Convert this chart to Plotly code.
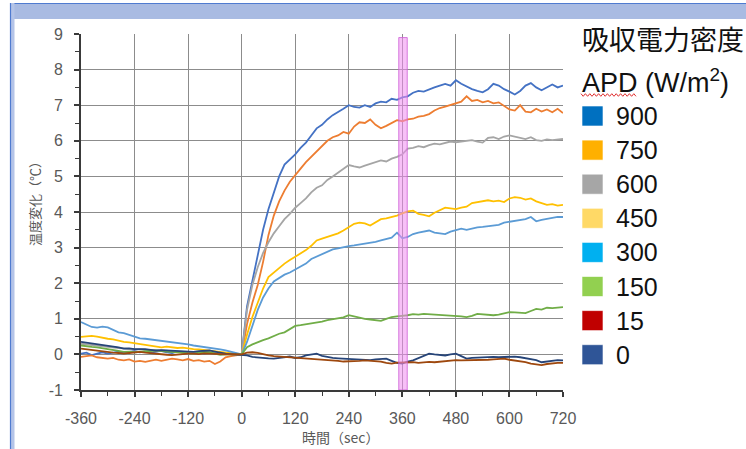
import plotly.graph_objects as go

# Time axis (s), sampled every 12 s from -360 to 720
time_sec = list(range(-360, 721, 12))

# Temperature change (°C) per absorbed power density (W/m²)
apd_900 = [0.02, 0.05, -0.02, 0.03, 0.06, 0.02, 0.05, 0.08, 0.04, 0.07,
           0.1, 0.06, 0.09, 0.05, 0.08, 0.1, 0.06, 0.04, 0.08, 0.05,
           0.03, 0.07, 0.04, 0.02, 0.05, 0.02, 0.04, 0.01, 0.03, 0.02,
           0.0, 1.35, 2.05, 2.8, 3.5, 4.08, 4.55, 5.0, 5.33, 5.48,
           5.62, 5.8, 5.95, 6.15, 6.35, 6.45, 6.6, 6.72, 6.8, 6.9,
           7.0, 6.95, 6.93, 7.0, 6.95, 7.05, 7.1, 7.08, 7.18, 7.15,
           7.22, 7.25, 7.35, 7.4, 7.38, 7.45, 7.5, 7.55, 7.6, 7.55,
           7.7, 7.6, 7.52, 7.45, 7.4, 7.36, 7.45, 7.6, 7.55, 7.45,
           7.38, 7.3, 7.4, 7.55, 7.62, 7.5, 7.42, 7.5, 7.58, 7.5,
           7.55]
apd_750 = [-0.07, -0.05, -0.03, -0.08, -0.1, -0.12, -0.1, -0.15, -0.17, -0.14,
           -0.2, -0.18, -0.21, -0.17, -0.15, -0.18, -0.16, -0.12, -0.14, -0.17,
           -0.13, -0.18, -0.16, -0.2, -0.18, -0.27, -0.2, -0.08, -0.05, -0.03,
           0.0, 0.85, 1.45, 1.95, 2.6, 3.35, 3.9, 4.3, 4.6, 4.85,
           5.05, 5.22, 5.4, 5.55, 5.7, 5.85, 6.0, 6.1, 6.15, 6.25,
           6.2, 6.4, 6.52, 6.5, 6.6, 6.45, 6.35, 6.42, 6.5, 6.58,
           6.55, 6.6, 6.62, 6.68, 6.7, 6.75, 6.85, 6.92, 6.96, 7.0,
           7.05, 7.1, 7.25, 7.12, 7.15, 7.08, 7.12, 7.05, 7.08, 6.98,
           6.88, 6.85, 7.0, 6.82, 6.8, 6.9, 6.82, 6.88, 6.8, 6.9,
           6.78]
apd_600 = [0.3, 0.28, 0.27, 0.25, 0.24, 0.22, 0.2, 0.18, 0.17, 0.15,
           0.14, 0.15, 0.13, 0.12, 0.1, 0.11, 0.1, 0.08, 0.09, 0.07,
           0.06, 0.07, 0.05, 0.06, 0.04, 0.05, 0.03, 0.02, 0.01, 0.0,
           0.0, 1.25, 1.95, 2.45, 2.85, 3.15, 3.4, 3.6, 3.8, 3.95,
           4.12, 4.25, 4.38, 4.55, 4.68, 4.75, 4.9, 5.0, 5.1, 5.22,
           5.32, 5.28, 5.25, 5.3, 5.35, 5.4, 5.45, 5.42, 5.5, 5.55,
           5.62, 5.78, 5.8, 5.85, 5.82, 5.88, 5.92, 5.9, 5.95, 5.98,
           5.96, 5.98, 6.0, 6.02, 5.98, 5.95, 6.08, 6.1, 6.05, 6.12,
           6.15, 6.12, 6.08, 6.05, 6.1, 6.02, 6.0, 6.04, 6.02, 6.04,
           6.05]
apd_450 = [0.49, 0.5, 0.52, 0.5, 0.46, 0.44, 0.42, 0.38, 0.35, 0.34,
           0.32, 0.3, 0.28, 0.25, 0.22, 0.2, 0.22, 0.2, 0.18, 0.19,
           0.16, 0.15, 0.14, 0.12, 0.11, 0.1, 0.08, 0.06, 0.04, 0.02,
           0.0, 0.55, 1.05, 1.45, 1.85, 2.17, 2.3, 2.42, 2.55, 2.65,
           2.74, 2.85, 2.93, 3.05, 3.2, 3.25, 3.3, 3.36, 3.4, 3.48,
           3.58, 3.67, 3.7, 3.68, 3.62, 3.72, 3.8, 3.82, 3.85, 3.9,
           3.96, 4.02, 4.04, 3.95, 3.92, 3.88, 3.98, 4.05, 4.12, 4.1,
           4.08, 4.12, 4.15, 4.25, 4.28, 4.3, 4.33, 4.3, 4.32, 4.28,
           4.38, 4.42, 4.4, 4.35, 4.38, 4.3, 4.25, 4.2, 4.22, 4.18,
           4.2]
apd_300 = [0.91, 0.85, 0.77, 0.75, 0.78, 0.76, 0.68, 0.62, 0.6, 0.55,
           0.5, 0.45, 0.44, 0.42, 0.4, 0.38, 0.37, 0.36, 0.33, 0.3,
           0.28, 0.25, 0.23, 0.22, 0.2, 0.16, 0.14, 0.11, 0.08, 0.04,
           0.0, 0.35, 0.8, 1.25, 1.6, 1.85, 2.05, 2.15, 2.24, 2.3,
           2.38, 2.45, 2.55, 2.68, 2.75, 2.82, 2.9, 2.95, 2.98, 3.02,
           3.04, 3.06, 3.08, 3.1, 3.12, 3.16, 3.2, 3.24, 3.28, 3.42,
           3.26, 3.3, 3.38, 3.42, 3.45, 3.48, 3.42, 3.4, 3.38, 3.45,
           3.5, 3.53, 3.5, 3.54, 3.57, 3.58, 3.6, 3.62, 3.64, 3.7,
           3.72, 3.75, 3.77, 3.8, 3.86, 3.74, 3.78, 3.81, 3.84, 3.86,
           3.86]
apd_150 = [0.25, 0.22, 0.21, 0.2, 0.18, 0.16, 0.14, 0.1, 0.07, 0.08,
           0.06, 0.07, 0.09, 0.1, 0.11, 0.09, 0.08, 0.07, 0.06, 0.04,
           0.03, 0.02, 0.05, 0.07, 0.06, 0.03, -0.01, 0.0, 0.01, 0.0,
           0.0, 0.2, 0.28, 0.35, 0.4, 0.45, 0.52, 0.58, 0.62, 0.72,
           0.8, 0.82, 0.84, 0.86, 0.9, 0.92, 0.96, 0.98, 1.0, 1.04,
           1.1, 1.06, 1.03, 1.0, 0.98, 0.96, 0.94, 1.0, 1.05, 1.07,
           1.08, 1.1, 1.13, 1.12, 1.14, 1.13, 1.14, 1.12, 1.1, 1.1,
           1.1, 1.07, 1.05, 1.08, 1.14, 1.12, 1.1, 1.1, 1.12, 1.15,
           1.19, 1.18, 1.16, 1.16, 1.22, 1.28, 1.26, 1.31, 1.3, 1.32,
           1.33]
apd_15 = [0.35, 0.33, 0.32, 0.3, 0.28, 0.25, 0.22, 0.2, 0.16, 0.17,
          0.15, 0.16, 0.15, 0.13, 0.11, 0.12, 0.11, 0.1, 0.11, 0.09,
          0.08, 0.07, 0.09, 0.1, 0.11, 0.08, 0.04, 0.02, 0.01, 0.0,
          0.0, -0.03, -0.07, -0.09, -0.1, -0.11, -0.12, -0.1, -0.08, -0.06,
          -0.1, -0.08, -0.03, 0.0, 0.02, -0.04, -0.08, -0.1, -0.11, -0.12,
          -0.12, -0.14, -0.15, -0.17, -0.16, -0.14, -0.13, -0.12, -0.18, -0.24,
          -0.26, -0.2, -0.17, -0.1, -0.03, 0.02, 0.0, -0.02, -0.03, 0.0,
          0.02, -0.05, -0.12, -0.1, -0.09, -0.08, -0.08, -0.07, -0.08, -0.07,
          -0.08, -0.06, -0.08, -0.1, -0.12, -0.16, -0.22, -0.2, -0.18, -0.16,
          -0.17]
apd_0 = [0.16, 0.14, 0.11, 0.1, 0.08, 0.07, 0.05, 0.04, 0.02, 0.04,
         0.06, 0.07, 0.05, 0.03, 0.02, 0.0, -0.01, -0.02, 0.0, 0.01,
         0.02, 0.02, 0.01, 0.03, 0.02, 0.0, -0.01, 0.0, 0.01, 0.0,
         0.0, 0.05, 0.06, 0.04, 0.0, -0.03, -0.05, -0.06, -0.07, -0.08,
         -0.09, -0.1, -0.11, -0.12, -0.12, -0.14, -0.16, -0.17, -0.18, -0.2,
         -0.2, -0.19, -0.18, -0.17, -0.18, -0.17, -0.2, -0.24, -0.26, -0.23,
         -0.22, -0.23, -0.22, -0.24, -0.22, -0.21, -0.22, -0.2, -0.18, -0.17,
         -0.16, -0.17, -0.17, -0.16, -0.15, -0.16, -0.15, -0.14, -0.13, -0.12,
         -0.15, -0.17, -0.19, -0.22, -0.26, -0.28, -0.3, -0.27, -0.25, -0.24,
         -0.24]

series_labels = ["900", "750", "600", "450", "300", "150", "15", "0"]
series_values = [apd_900, apd_750, apd_600, apd_450, apd_300, apd_150, apd_15, apd_0]
line_colors = ["#4472c4", "#ed7d31", "#a5a5a5", "#ffc000",
               "#5b9bd5", "#70ad47", "#264478", "#9e480e"]
legend_colors = ["#0070c0", "#ffb000", "#a6a6a6", "#ffd966",
                 "#00b0f0", "#92d050", "#c00000", "#2f5597"]

x_ticks = [-360, -240, -120, 0, 120, 240, 360, 480, 600, 720]
x_tick_text = ["-360", "-240", "-120", "0", "120", "240", "360", "480", "600", "720"]
y_ticks = [-1, 0, 1, 2, 3, 4, 5, 6, 7, 8, 9]
y_tick_text = ["-1", "0", "1", "2", "3", "4", "5", "6", "7", "8", "9"]

# Plot-area geometry in pixels (used to place decorations in paper units)
W, H = 746, 449
L, R, T, B = 81, 563, 34, 390


def px(xp):
    return (xp - L) / (R - L)


def py(yp):
    return (B - yp) / (B - T)


fig = go.Figure()
for name, vals, col in zip(series_labels, series_values, line_colors):
    fig.add_trace(go.Scatter(x=time_sec, y=vals, mode="lines", name=name,
                             line=dict(color=col, width=1.8),
                             showlegend=False, hoverinfo="skip"))

font_main = "Liberation Sans, Arial, Noto Sans CJK JP, sans-serif"
font_cjk = "Noto Sans CJK JP, Liberation Sans, sans-serif"

shapes = []
# Window frame: light blue title band and left edge
shapes.append(dict(type="rect", xref="paper", yref="paper",
                   x0=px(10), x1=px(747), y0=py(19), y1=py(3),
                   fillcolor="#a9bbe2", line=dict(width=0), layer="above"))
shapes.append(dict(type="line", xref="paper", yref="paper",
                   x0=px(10), x1=px(747), y0=py(3.5), y1=py(3.5),
                   line=dict(color="#4f7bd0", width=1.2), layer="above"))
shapes.append(dict(type="rect", xref="paper", yref="paper",
                   x0=px(10), x1=px(14.5), y0=py(450), y1=py(3),
                   fillcolor="#b4c4e8", line=dict(width=0), layer="above"))
shapes.append(dict(type="line", xref="paper", yref="paper",
                   x0=px(10.5), x1=px(10.5), y0=py(450), y1=py(3),
                   line=dict(color="#4f7bd0", width=1.2), layer="above"))

# Highlighted time window around 360 s
shapes.append(dict(type="rect", xref="x", yref="y", x0=352, x1=371,
                   y0=-1, y1=8.9, fillcolor="rgba(240,140,240,0.55)",
                   line=dict(color="rgba(205,95,215,0.8)", width=1),
                   layer="above"))

# Legend swatches
annotations = []
for i, (lab, col) in enumerate(zip(series_labels, legend_colors)):
    yc = 116 + 34.1 * i
    shapes.append(dict(type="rect", xref="paper", yref="paper",
                       x0=px(582), x1=px(603), y0=py(yc + 10), y1=py(yc - 10),
                       fillcolor=col, line=dict(color="rgba(255,255,255,0.6)", width=1),
                       layer="above"))
    annotations.append(dict(text=lab, xref="paper", yref="paper",
                            x=px(614), y=py(yc), xanchor="left", yanchor="middle",
                            showarrow=False,
                            font=dict(family=font_main, size=25, color="#111111")))

# Legend title
annotations.append(dict(text="吸収電力密度", xref="paper", yref="paper",
                        x=px(580), y=py(39), xanchor="left", yanchor="middle",
                        showarrow=False,
                        font=dict(family=font_cjk, size=27, color="#111111")))
annotations.append(dict(text="APD (W/m<sup>2</sup>)", xref="paper", yref="paper",
                        x=px(580), y=py(81), xanchor="left", yanchor="middle",
                        showarrow=False,
                        font=dict(family=font_main, size=27, color="#111111")))

# Red wavy underline beneath "APD"
wave = []
xw = 581.0
k = 0
while xw <= 638:
    yw = 95 + (1.3 if k % 2 else -1.3)
    wave.append(f"{'M' if k == 0 else 'L'} {px(xw):.5f},{py(yw):.5f}")
    xw += 2.2
    k += 1
shapes.append(dict(type="path", xref="paper", yref="paper", path=" ".join(wave),
                   line=dict(color="#e03030", width=1), layer="above"))

# Axis titles
annotations.append(dict(text="温度変化（℃）", xref="paper", yref="paper",
                        x=px(34), y=py(201), textangle=-90,
                        xanchor="center", yanchor="middle", showarrow=False,
                        font=dict(family=font_cjk, size=13, color="#595959")))
annotations.append(dict(text="時間（sec）", xref="paper", yref="paper",
                        x=px(340), y=py(437), xanchor="center", yanchor="middle",
                        showarrow=False,
                        font=dict(family=font_cjk, size=14, color="#595959")))

fig.update_layout(
    width=W, height=H,
    margin=dict(l=L, r=W - R, t=T, b=H - B, pad=0),
    paper_bgcolor="white", plot_bgcolor="white",
    shapes=shapes, annotations=annotations,
    showlegend=False,
)

fig.update_xaxes(range=[-360, 720], tickvals=x_ticks, ticktext=x_tick_text,
                 showgrid=True, gridcolor="#8c8c8c", gridwidth=1,
                 showline=True, linecolor="#3a3a3a", linewidth=1.8,
                 ticks="outside", ticklen=5, tickwidth=1.5, tickcolor="#3a3a3a",
                 minor=dict(dtick=60, ticks="outside", ticklen=4,
                            tickcolor="#3a3a3a", tickwidth=1.3, showgrid=False),
                 tickfont=dict(family=font_main, size=16, color="#595959"),
                 ticklabelstandoff=8, zeroline=False, fixedrange=True)
fig.update_yaxes(range=[-1, 9], tickvals=y_ticks, ticktext=y_tick_text,
                 showgrid=True, gridcolor="#8c8c8c", gridwidth=1,
                 showline=True, linecolor="#3a3a3a", linewidth=1.8,
                 ticks="outside", ticklen=5, tickwidth=1.5, tickcolor="#3a3a3a",
                 minor=dict(dtick=0.5, ticks="outside", ticklen=4,
                            tickcolor="#3a3a3a", tickwidth=1.3, showgrid=False),
                 tickfont=dict(family=font_main, size=16, color="#595959"),
                 ticklabelstandoff=8, zeroline=False, fixedrange=True)

fig.write_html("out.html", config={"displayModeBar": False})
